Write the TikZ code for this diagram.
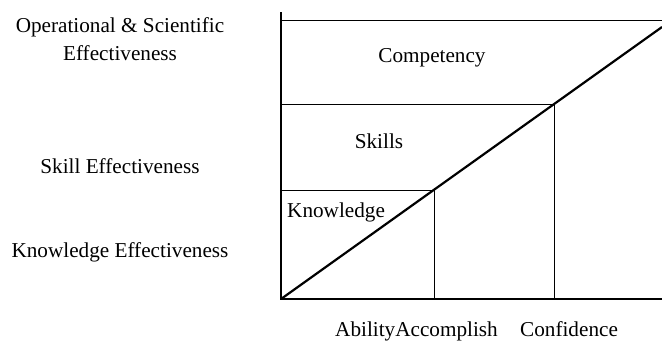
\documentclass[tikz,border=0pt]{standalone}
\usepackage{fontspec}
\setmainfont{Liberation Serif}
\begin{document}
\begin{tikzpicture}[x=1pt,y=-1pt,
    lbl/.style={font=\fontsize{21.2}{28}\selectfont, inner sep=0pt, align=center, anchor=base}]
    \useasboundingbox (0,0) rectangle (662,341);

    % axes and levels
    \coordinate (o)    at (281,299);
    \coordinate (ytop) at (281,12);
    \coordinate (xend) at (662,299);
    \coordinate (ctop) at (662,20);
    \coordinate (s)    at (554,104);
    \coordinate (k)    at (434,190);
    \coordinate (dend) at (662,27);

    \draw[line width=0.9pt] (o |- ctop) -- (ctop);
    \draw[line width=0.9pt] (o |- s) -- (s) -- (s |- o);
    \draw[line width=0.9pt] (o |- k) -- (k) -- (k |- o);

    \draw[line width=2.6pt] (ytop) -- (o) -- (xend);
    \draw[line width=2.2pt] (o) -- (dend);

    % areas
    \node[lbl] (comp) at (432,62) {Competency};
    \node[lbl] (skl)  at (379,148) {Skills};
    \node[lbl,anchor=base west] (knw) at (287,217) {Knowledge};

    % effectiveness levels
    \node[lbl] (opeff) at (120,60) {Operational \& Scientific\\Effectiveness};
    \node[lbl] (skeff) at (120,173) {Skill Effectiveness};
    \node[lbl] (kneff) at (120,257) {Knowledge Effectiveness};

    % x axis labels
    \node[lbl,anchor=base west] (abl) at (335,336) {AbilityAccomplish};
    \node[lbl,anchor=base west] (cnf) at (520,336) {Confidence};
\end{tikzpicture}
\end{document}
